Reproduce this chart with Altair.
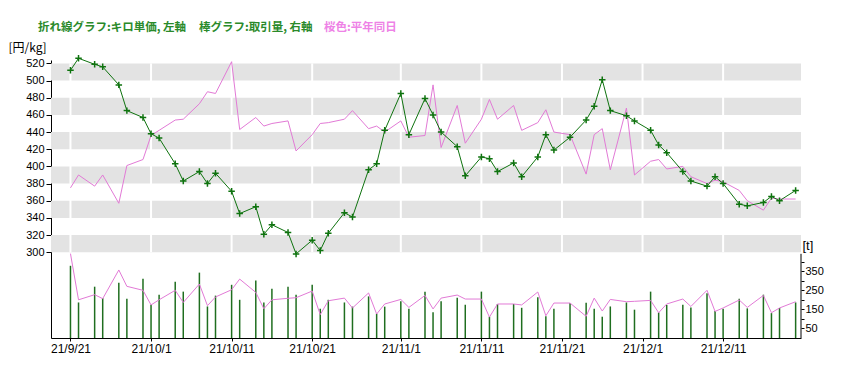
import altair as alt
import pandas as pd

dates = ["2021-09-21","2021-09-22","2021-09-24","2021-09-25","2021-09-27","2021-09-28","2021-09-30",
"2021-10-01","2021-10-02","2021-10-04","2021-10-05","2021-10-07","2021-10-08","2021-10-09","2021-10-11","2021-10-12","2021-10-14","2021-10-15","2021-10-16","2021-10-18","2021-10-19","2021-10-21","2021-10-22","2021-10-23","2021-10-25","2021-10-26","2021-10-28","2021-10-29","2021-10-30",
"2021-11-01","2021-11-02","2021-11-04","2021-11-05","2021-11-06","2021-11-08","2021-11-09","2021-11-11","2021-11-12","2021-11-13","2021-11-15","2021-11-16","2021-11-18","2021-11-19","2021-11-20","2021-11-22","2021-11-24","2021-11-25","2021-11-26","2021-11-27","2021-11-29","2021-11-30",
"2021-12-02","2021-12-03","2021-12-04","2021-12-06","2021-12-07","2021-12-09","2021-12-10","2021-12-11","2021-12-13","2021-12-14","2021-12-16","2021-12-17","2021-12-18","2021-12-20"]

# kilo unit price (left axis)
price = [512,526,519,516,495,465,457,
438,433,403,383,394,380,392,371,345,353,321,332,323,298,314,302,322,346,341,396,403,442,
485,437,479,460,440,423,389,411,409,394,404,388,411,437,419,434,454,470,501,465,459,453,
442,425,416,394,383,377,388,380,356,354,358,365,360,372]

# normal-year same-day price
price_avg = [375,390,377,390,357,401,408,
436,442,454,455,473,487,485,522,443,457,447,450,453,418,437,450,451,455,465,444,447,440,
453,434,436,495,422,471,427,455,478,455,471,442,451,466,440,437,391,437,444,396,468,390,
406,408,397,400,388,380,384,382,372,360,349,363,362,362]

# traded volume (right axis)
volume = [380,187,270,210,291,207,312,
175,228,296,244,344,166,223,280,201,302,187,259,270,228,280,154,201,187,165,219,128,165,
193,154,244,135,193,212,175,244,112,179,179,159,214,114,154,184,186,154,112,166,187,149,
244,135,174,175,161,235,142,154,207,156,228,131,158,187]

# normal-year same-day volume
volume_avg = [444,201,228,207,358,272,251,
174,201,251,187,284,170,216,254,310,240,154,201,209,212,247,123,196,210,158,237,126,179,
203,161,224,153,210,226,205,205,110,179,179,174,242,117,184,184,114,210,142,203,191,193,
198,133,179,205,166,251,140,158,200,161,224,133,158,191]

band_lo = [300, 340, 380, 420, 460, 500]
band_hi = [320, 360, 400, 440, 480, 520]
tick_dates = ["2021-09-21","2021-10-01","2021-10-11","2021-10-21","2021-11-01",
              "2021-11-11","2021-11-21","2021-12-01","2021-12-11"]
price_ticks = list(range(300, 521, 20))
vol_ticks = [50, 100, 150, 200, 250, 300, 350, 400]

df = pd.DataFrame({"date": dates, "price": price, "price_avg": price_avg,
                   "volume": volume, "volume_avg": volume_avg})
bands = pd.DataFrame({"lo": band_lo, "hi": band_hi})
grid = pd.DataFrame({"date": tick_dates, "lo": [300]*len(tick_dates), "hi": [520]*len(tick_dates)})
raxis = pd.DataFrame({"lo": [0], "hi": [443]})
txt = pd.DataFrame({"t": ["x"]})

GREEN = "#0f730f"
BAR = "#1f6e1f"
PINK = "#e27ad6"
NUM_FONT = "Liberation Sans"
JP_FONT = "Noto Sans CJK JP"

def dt(y, m, d, h=0):
    return alt.DateTime(year=y, month=m, date=d, hours=h, utc=True)

xscale = alt.Scale(type="utc", domain=[dt(2021, 9, 18, 14), dt(2021, 12, 20, 16)])
xaxis = alt.Axis(values=[dt(int(s[:4]), int(s[5:7]), int(s[8:])) for s in tick_dates],
                 format="%y/%-m/%-d", grid=False, tickSize=3, tickColor="black",
                 domainColor="black", labelFont=NUM_FONT, labelFontSize=12,
                 labelColor="black", labelPadding=2, title=None, labelFlush=False)

def X(field="date:T"):
    return alt.X(field, scale=xscale, axis=xaxis)

pscale = alt.Scale(domain=[200, 524], nice=False, zero=False)
paxis = alt.Axis(values=price_ticks, grid=False, tickSize=5, tickColor="black",
                 domainColor="black", labelFont=NUM_FONT, labelFontSize=11,
                 labelColor="black", labelPadding=2, orient="left",
                 title="[円/kg]", titleAngle=0, titleAlign="left", titleBaseline="middle",
                 titleX=-43, titleY=-13, titleFont=JP_FONT, titleFontSize=12,
                 titleFontWeight="normal", titleColor="black")

def PY(field):
    return alt.Y(field, scale=pscale, axis=paxis)

vscale = alt.Scale(domain=[0, 1463], nice=False)
vaxis = alt.Axis(values=vol_ticks, grid=False, tickSize=3, tickColor="black",
                 domain=False, labelFont=NUM_FONT, labelFontSize=11, labelColor="black",
                 labelPadding=1, orient="right",
                 labelExpr="datum.value % 100 == 50 ? datum.label : ''",
                 title="[t]", titleAngle=0, titleAlign="left", titleBaseline="middle",
                 titleX=1, titleY=185, titleFont=NUM_FONT, titleFontSize=13,
                 titleFontWeight="normal", titleColor="black")

def VY(field):
    return alt.Y(field, scale=vscale, axis=vaxis)

band_layer = alt.Chart(bands).mark_rect(color="#e3e3e3").encode(
    y=PY("lo:Q"), y2="hi:Q")
grid_layer = alt.Chart(grid).mark_rule(color="white", strokeWidth=2).encode(
    x=X(), y=PY("lo:Q"), y2="hi:Q")
pink_price = alt.Chart(df).mark_line(color=PINK, strokeWidth=1).encode(
    x=X(), y=PY("price_avg:Q"))
green_line = alt.Chart(df).mark_line(color=GREEN, strokeWidth=1).encode(
    x=X(), y=PY("price:Q"))
green_pts = alt.Chart(df).mark_point(shape="M-1,0L1,0M0,-1L0,1", filled=False,
                                     size=42, strokeWidth=1.5, color=GREEN, opacity=1).encode(
    x=X(), y=PY("price:Q"))

t1 = alt.Chart(txt).mark_text(text="折れ線グラフ:キロ単価, 左軸", font=JP_FONT, fontSize=11.5,
                              fontWeight="bold", color="#2a8a2a", align="left",
                              baseline="middle").encode(x=alt.value(-13), y=alt.value(-32))
t2 = alt.Chart(txt).mark_text(text="棒グラフ:取引量, 右軸", font=JP_FONT, fontSize=11.5,
                              fontWeight="bold", color="#2a8a2a", align="left",
                              baseline="middle").encode(x=alt.value(148), y=alt.value(-32))
t3 = alt.Chart(txt).mark_text(text="桜色:平年同日", font=JP_FONT, fontSize=11.5,
                              fontWeight="bold", color="#ee82e6", align="left",
                              baseline="middle").encode(x=alt.value(273), y=alt.value(-32))

price_layer = alt.layer(band_layer, grid_layer, pink_price, green_line, green_pts, t1, t2, t3)

bars = alt.Chart(df).mark_rule(color=BAR, strokeWidth=1.5).encode(
    x=X(), y=VY("volume:Q"), y2=alt.datum(0))
pink_vol = alt.Chart(df).mark_line(color=PINK, strokeWidth=1).encode(
    x=X(), y=VY("volume_avg:Q"))
r_line = alt.Chart(raxis).mark_rule(color="black", strokeWidth=1).encode(
    x=alt.value(750), y=VY("lo:Q"), y2="hi:Q")

vol_layer = alt.layer(bars, pink_vol, r_line)

chart = alt.layer(price_layer, vol_layer).resolve_scale(y="independent").properties(
    width=750, height=278,
    padding={"left": 43, "top": 52, "right": 28, "bottom": 20},
    autosize=alt.AutoSizeParams(type="none"),
    background="white",
).configure_view(stroke=None)

chart.save("out.html", embed_options={"renderer": "svg", "actions": False})
